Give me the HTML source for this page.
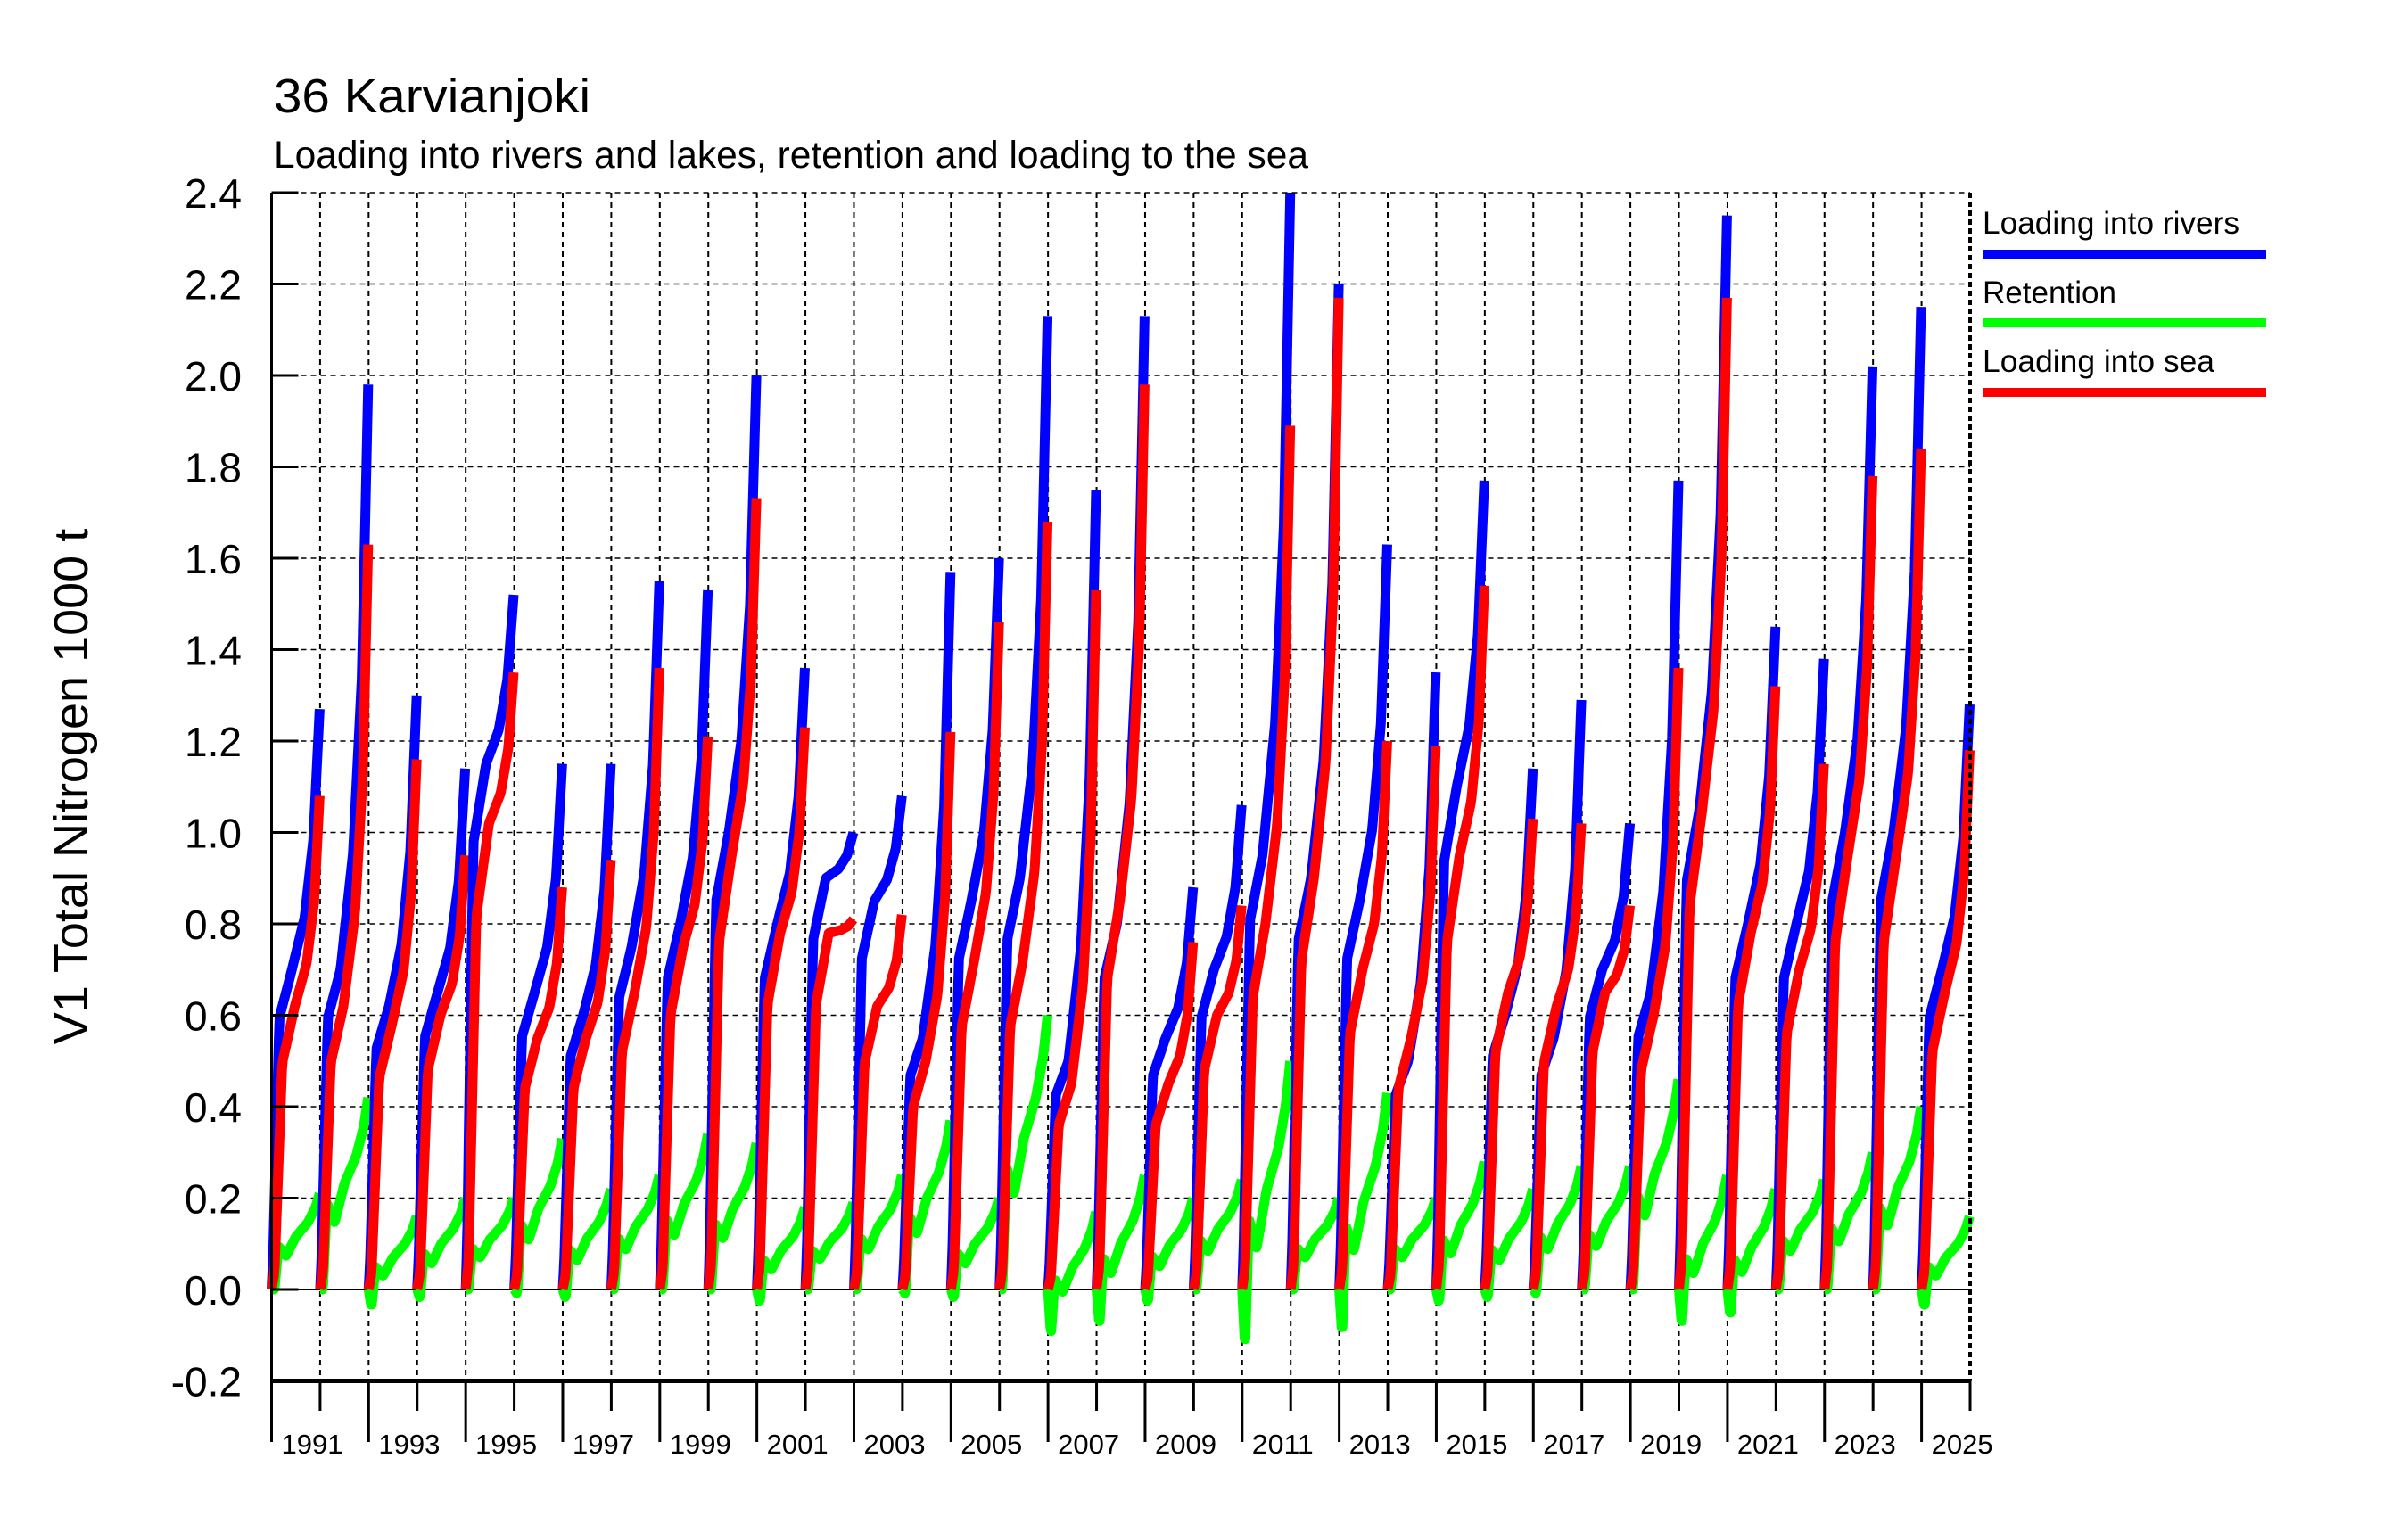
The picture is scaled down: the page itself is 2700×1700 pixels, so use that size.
<!DOCTYPE html>
<html><head><meta charset="utf-8"><style>
html,body{margin:0;padding:0;background:#fff;}
svg{display:block;font-family:"Liberation Sans",sans-serif;}
</style></head><body>
<svg id="chart" width="2700" height="1700" viewBox="0 0 2700 1700" xmlns="http://www.w3.org/2000/svg">
<rect width="2700" height="1700" fill="#fff"/>
<text x="307" y="126" font-size="54" textLength="355" lengthAdjust="spacingAndGlyphs">36 Karvianjoki</text>
<text x="307" y="188" font-size="43" textLength="1160" lengthAdjust="spacingAndGlyphs">Loading into rivers and lakes, retention and loading to the sea</text>
<text transform="translate(98,882) rotate(-90)" text-anchor="middle" font-size="54">V1 Total Nitrogen 1000 t</text>
<g id="grid"></g><g id="series"></g><g id="axes"></g>
<g>
<text x="2223" y="262" font-size="35" textLength="288" lengthAdjust="spacingAndGlyphs">Loading into rivers</text>
<rect x="2223" y="280" width="318" height="10" fill="#0000ff"/>
<text x="2223" y="340" font-size="35" textLength="150" lengthAdjust="spacingAndGlyphs">Retention</text>
<rect x="2223" y="357" width="318" height="10" fill="#00ff00"/>
<text x="2223" y="417" font-size="35" textLength="260" lengthAdjust="spacingAndGlyphs">Loading into sea</text>
<rect x="2223" y="435" width="318" height="10" fill="#ff0000"/>
</g>
</svg>
<script>
const years = [1990,1991,1992,1993,1994,1995,1996,1997,1998,1999,2000,2001,2002,2003,2004,2005,2006,2007,2008,2009,2010,2011,2012,2013,2014,2015,2016,2017,2018,2019,2020,2021,2022,2023,2024];
const riversPeak = [1.27,1.98,1.30,1.14,1.52,1.15,1.15,1.55,1.53,2.00,1.36,1.00,1.08,1.57,1.60,2.13,1.75,2.13,0.88,1.06,2.40,2.20,1.63,1.35,1.77,1.14,1.29,1.02,1.77,2.35,1.45,1.38,2.02,2.15,1.28];
const riversMid = [0.70,0.70,0.62,0.65,1.15,0.65,0.60,0.75,0.80,1.00,0.80,0.90,0.85,0.55,0.85,0.90,0.50,0.80,0.55,0.70,0.95,0.90,0.85,0.50,1.10,0.60,0.55,0.70,0.65,1.05,0.80,0.80,1.00,1.00,0.70];
const seaPeak = [1.08,1.63,1.16,0.95,1.35,0.88,0.94,1.36,1.21,1.73,1.23,0.81,0.82,1.22,1.46,1.68,1.53,1.98,0.76,0.84,1.89,2.17,1.20,1.19,1.54,1.03,1.02,0.84,1.36,2.17,1.32,1.15,1.78,1.84,1.18];
const seaMid = [0.62,0.62,0.58,0.60,1.02,0.55,0.55,0.65,0.75,0.95,0.78,0.78,0.62,0.50,0.72,0.72,0.45,0.85,0.45,0.60,0.80,0.90,0.70,0.55,0.95,0.65,0.62,0.65,0.60,1.05,0.78,0.70,0.95,0.95,0.65];
const retentionPeak = [0.21,0.42,0.16,0.20,0.20,0.33,0.22,0.25,0.34,0.32,0.18,0.19,0.25,0.37,0.20,0.60,0.17,0.25,0.20,0.24,0.50,0.20,0.43,0.20,0.28,0.22,0.27,0.27,0.46,0.25,0.22,0.24,0.30,0.40,0.16];
const retentionStart = [0,0,-0.04,-0.02,0,-0.01,-0.02,0,0,0,-0.03,0,0,-0.01,-0.02,0,-0.10,-0.08,-0.03,0,-0.13,0,-0.10,0,-0.03,-0.02,-0.01,0,0,-0.08,-0.06,0,0,0,-0.04];
const yTicks = [-0.2,0.0,0.2,0.4,0.6,0.8,1.0,1.2,1.4,1.6,1.8,2.0,2.2,2.4];
const yTickLabels = ["-0.2","0.0","0.2","0.4","0.6","0.8","1.0","1.2","1.4","1.6","1.8","2.0","2.2","2.4"];

const NS="http://www.w3.org/2000/svg";
const X0=304.5,X1=2209,Y0=1548.5,Y1=216;
const xMin=1990,xMax=2025,yMin=-0.2,yMax=2.4;
function xs(v){return X0+(v-xMin)/(xMax-xMin)*(X1-X0);}
function ys(v){return Y0-(v-yMin)/(yMax-yMin)*(Y0-Y1);}
function mk(tag,attrs,parent){const e=document.createElementNS(NS,tag);for(const k in attrs)e.setAttribute(k,attrs[k]);parent.appendChild(e);return e;}
const grid=document.getElementById('grid'),axes=document.getElementById('axes'),series=document.getElementById('series');

yTicks.forEach((t,i)=>{
  const y=ys(t);
  if(i>0&&i<yTicks.length-1){
    const g=mk('line',{x1:X0,x2:X1,y1:y,y2:y,stroke:'#000','stroke-width':t===0?2:1.5,'stroke-dasharray':t===0?'none':'6,5'},grid);
    
    
  }
  const tk=mk('line',{x1:X0,x2:X0+30,y1:y,y2:y,stroke:'#000','stroke-width':3},axes);
  
  
  const lb=mk('text',{x:271,y:y+17,'text-anchor':'end','font-size':46},axes);
  lb.textContent=yTickLabels[i];
  
  
});
for(let yr=xMin+1;yr<xMax;yr++){
  const x=xs(yr);
  const g=mk('line',{x1:x,x2:x,y1:Y1,y2:Y0,stroke:'#000','stroke-width':2,'stroke-dasharray':'6,5'},grid);
  
  
}
for(let yr=xMin;yr<=xMax;yr++){
  const x=xs(yr);const even=(yr%2===0);
  const t=mk('line',{x1:x,x2:x,y1:Y0,y2:even?1617:1582,stroke:'#000','stroke-width':3},axes);
  
  
  if(!even){
    const lb=mk('text',{x:xs(yr-1)+11,y:1630,'font-size':31,textLength:69,lengthAdjust:'spacingAndGlyphs'},axes);
    lb.textContent=String(yr);
    
    
  }
}
let f;
f=mk('line',{x1:X0,x2:X0,y1:Y1,y2:Y0,stroke:'#000','stroke-width':3},axes);


f=mk('line',{x1:X0,x2:X1,y1:Y0,y2:Y0,stroke:'#000','stroke-width':5},axes);


f=mk('line',{x1:X0,x2:X1,y1:Y1,y2:Y1,stroke:'#000','stroke-width':1.5,'stroke-dasharray':'6,5'},axes);


f=mk('line',{x1:X1,x2:X1,y1:Y1,y2:Y0,stroke:'#000','stroke-width':4,'stroke-dasharray':'6,4'},axes);



function interp(fr,ks,vs){
  if(fr<=ks[0])return vs[0];
  for(let i=1;i<ks.length;i++){if(fr<=ks[i]){const t=(fr-ks[i-1])/(ks[i]-ks[i-1]);return vs[i-1]+t*(vs[i]-vs[i-1]);}}
  return vs[vs.length-1];
}
const FK=[0,0.03,0.16,0.42,0.68,0.86,0.99];
const RK=[0,0.06,0.22,0.48,0.72,0.88,0.99];
const GK=[0,0.06,0.14,0.3,0.5,0.75,0.9,0.99];
function path(yr,fn){let d='';const N=60;for(let k=0;k<=N;k++){const fr=k/N*0.99;const x=xs(yr+fr);const y=ys(fn(fr));d+=(k?'L':'M')+x.toFixed(1)+','+y.toFixed(1);}return d;}
years.forEach((yr,i)=>{
  const bp=riversPeak[i],bm=riversMid[i],rp=seaPeak[i],rm=seaMid[i],gp=retentionPeak[i],gs=retentionStart[i];
  const g=mk('path',{d:path(yr,fr=>{const base=gs;return interp(fr,GK,[0,base,base+(gp-base)*0.45,base+(gp-base)*0.35,base+(gp-base)*0.55,base+(gp-base)*0.7,base+(gp-base)*0.85,gp]);}),fill:'none',stroke:'#00ff00','stroke-width':11,'stroke-linejoin':'round'},series);
  
  
  const b=mk('path',{d:path(yr,fr=>interp(fr,FK,[0,0.1*bm,0.85*bm,bm,bm+0.2*(bp-bm),bm+0.5*(bp-bm),bp])),fill:'none',stroke:'#0000ff','stroke-width':11,'stroke-linejoin':'round'},series);
  
  
  const r=mk('path',{d:path(yr,fr=>interp(fr,RK,[0,0.06*rm,0.8*rm,rm,rm+0.2*(rp-rm),rm+0.5*(rp-rm),rp])),fill:'none',stroke:'#ff0000','stroke-width':11,'stroke-linejoin':'round'},series);
  
  
});
</script>
</body></html>
